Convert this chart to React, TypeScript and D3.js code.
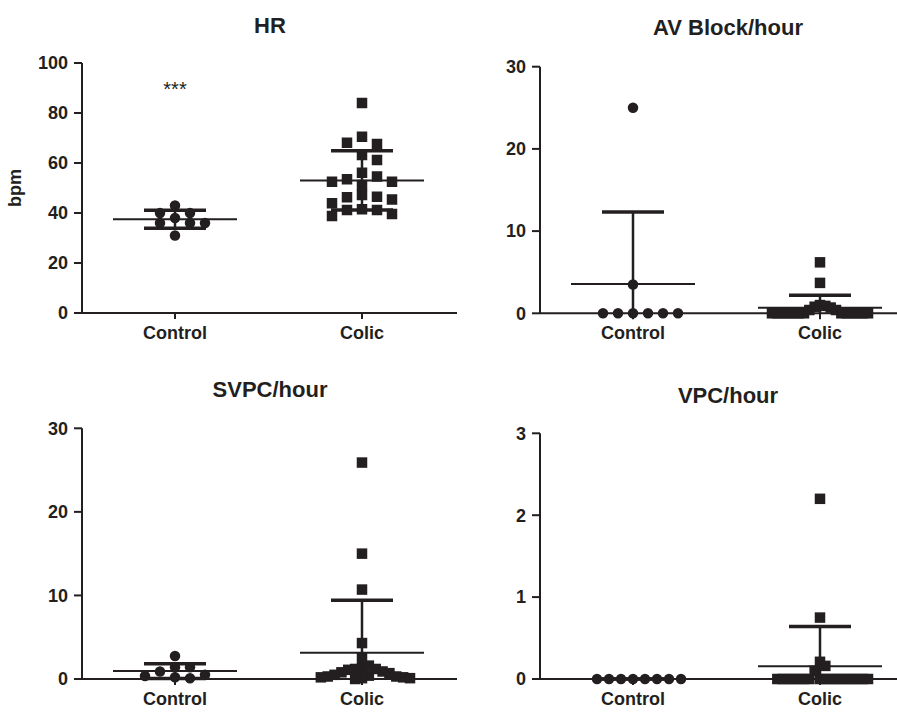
import React from 'react';
import * as d3 from 'd3';

// values (one entry per animal)
const categories = ['Control', 'Colic'];
const panelTitles = ['HR', 'AV Block/hour', 'SVPC/hour', 'VPC/hour'];

const hrControl = [38, 40, 40, 36, 36, 36, 43, 31];
const hrColic = [84, 70.5, 67.6, 68.1, 63.2, 61.2, 56.1, 54.6, 53.5, 52.5, 52.5, 51.2,
  47.2, 46.5, 46.3, 45.4, 43.9, 41.5, 41.2, 41.2, 39.6, 38.8];

const avControl = [25, 3.5, 0, 0, 0, 0, 0, 0];
const avColic = [6.2, 3.7, 1.0, 0.9, 0.8, 0.7, 0.4, 0.4, 0, 0, 0, 0, 0, 0, 0, 0, 0, 0, 0, 0, 0];

const svpcControl = [2.75, 1.4, 1.4, 0.9, 0.5, 0.35, 0.2, 0.1];
const svpcColic = [25.9, 15, 10.7, 4.3, 2.5, 1.6, 1.3, 1.2, 1.2, 1.1, 0.9, 0.8, 0.7, 0.5,
  0.4, 0.3, 0.3, 0.2, 0.2, 0.1, 0.1, 0];

const vpcControl = [0, 0, 0, 0, 0, 0, 0, 0];
const vpcColic = [2.2, 0.75, 0.21, 0.16, 0.1, 0, 0, 0, 0, 0, 0, 0, 0, 0, 0, 0, 0, 0, 0, 0, 0, 0];

const hrTicks = [0, 20, 40, 60, 80, 100];
const avTicks = [0, 10, 20, 30];
const svpcTicks = [0, 10, 20, 30];
const vpcTicks = [0, 1, 2, 3];
const hrSignificance = '***';

const INK = '#231f20';
const FONT = '"Liberation Sans", Arial, Helvetica, sans-serif';
const MARK = 10.5;

// greedy column layout, squeezes the columns when a row gets crowded
function swarm(values: number[], y: (v: number) => number) {
  const thr = MARK * 0.9;
  let last: { x: number; y: number }[] = [];
  for (let K = 3; K <= 14; K++) {
    const s = Math.min(15, 96 / (2 * K));
    const order = [0];
    for (let k = 1; k <= K; k++) order.push(k, -k);
    const placed: { col: number; py: number }[] = [];
    let ok = true;
    for (const v of values) {
      const py = y(v);
      let found: number | null = null;
      for (const c of order) {
        if (!placed.some(p => p.col === c && Math.abs(p.py - py) < thr)) { found = c; break; }
      }
      if (found === null) { ok = false; found = 0; }
      placed.push({ col: found, py });
    }
    last = placed.map(p => ({ x: p.col * s, y: p.py }));
    if (ok) break;
  }
  return last;
}

type PanelProps = {
  title: string;
  groups: number[][];
  ticks: number[];
  x0: number;
  top: number;
  bottom: number;
  titleY: number;
  yLabel?: string;
  note?: string;
};

const Panel = ({ title, groups, ticks, x0, top, bottom, titleY, yLabel, note }: PanelProps) => {
  const y = d3.scaleLinear().domain([0, d3.max(ticks) as number]).range([bottom, top]);
  const x = d3.scalePoint().domain(categories).range([x0 + 93, x0 + 280]);
  const axisW = 375;

  return (
    <g>
      <text x={x0 + 188} y={titleY} textAnchor="middle" fontSize={22} fontWeight="bold">{title}</text>

      {/* y axis */}
      <line x1={x0} x2={x0} y1={y(d3.max(ticks) as number)} y2={y(0)} stroke={INK} strokeWidth={2} />
      {ticks.map(t => (
        <g key={t}>
          <line x1={x0 - 8} x2={x0} y1={y(t)} y2={y(t)} stroke={INK} strokeWidth={2} />
          <text x={x0 - 14} y={y(t)} dy="0.35em" textAnchor="end" fontSize={18} fontWeight="bold">{t}</text>
        </g>
      ))}
      {yLabel && (
        <text transform={`translate(${x0 - 61},${(y.range()[0] + y.range()[1]) / 2}) rotate(-90)`}
          textAnchor="middle" fontSize={18} fontWeight="bold">{yLabel}</text>
      )}

      {/* x axis */}
      <line x1={x0} x2={x0 + axisW} y1={y(0)} y2={y(0)} stroke={INK} strokeWidth={2} />
      {categories.map(c => (
        <g key={c}>
          <line x1={x(c)} x2={x(c)} y1={y(0)} y2={y(0) + 6} stroke={INK} strokeWidth={2} />
          <text x={x(c)} y={y(0) + 26} textAnchor="middle" fontSize={18} fontWeight="bold">{c}</text>
        </g>
      ))}

      {groups.map((vals, gi) => {
        const cx = x(categories[gi]) as number;
        const m = d3.mean(vals) as number;
        const sd = d3.deviation(vals) as number;
        const pts = swarm(vals, y);
        const lo = m - sd;
        return (
          <g key={gi}>
            {pts.map((p, i) => gi === 0
              ? <circle key={i} cx={cx + p.x} cy={p.y} r={MARK / 2} fill={INK} />
              : <rect key={i} x={cx + p.x - MARK / 2} y={p.y - MARK / 2} width={MARK} height={MARK} fill={INK} />)}
            <line x1={cx - 62} x2={cx + 62} y1={y(m)} y2={y(m)} stroke={INK} strokeWidth={2} />
            <line x1={cx} x2={cx} y1={y(Math.max(0, lo))} y2={y(m + sd)} stroke={INK} strokeWidth={2.5} />
            <line x1={cx - 31} x2={cx + 31} y1={y(m + sd)} y2={y(m + sd)} stroke={INK} strokeWidth={3.5} />
            {lo >= 0 && <line x1={cx - 31} x2={cx + 31} y1={y(lo)} y2={y(lo)} stroke={INK} strokeWidth={3.5} />}
          </g>
        );
      })}

      {note && (
        <text x={x(categories[0])} y={y(87)} textAnchor="middle" fontSize={20}>{note}</text>
      )}
    </g>
  );
};

export default function App() {
  return (
    <svg width={897} height={713} style={{ display: 'block', position: 'absolute', left: 0, top: 0, background: '#fff' }}
      fontFamily={FONT} fill={INK}>
      <Panel title={panelTitles[0]} groups={[hrControl, hrColic]} ticks={hrTicks}
        x0={82} top={63} bottom={313} titleY={33} yLabel="bpm" note={hrSignificance} />
      <Panel title={panelTitles[1]} groups={[avControl, avColic]} ticks={avTicks}
        x0={540} top={66.7} bottom={313.3} titleY={35} />
      <Panel title={panelTitles[2]} groups={[svpcControl, svpcColic]} ticks={svpcTicks}
        x0={82} top={428.3} bottom={679} titleY={397} />
      <Panel title={panelTitles[3]} groups={[vpcControl, vpcColic]} ticks={vpcTicks}
        x0={540} top={433.3} bottom={679} titleY={403} />
    </svg>
  );
}
